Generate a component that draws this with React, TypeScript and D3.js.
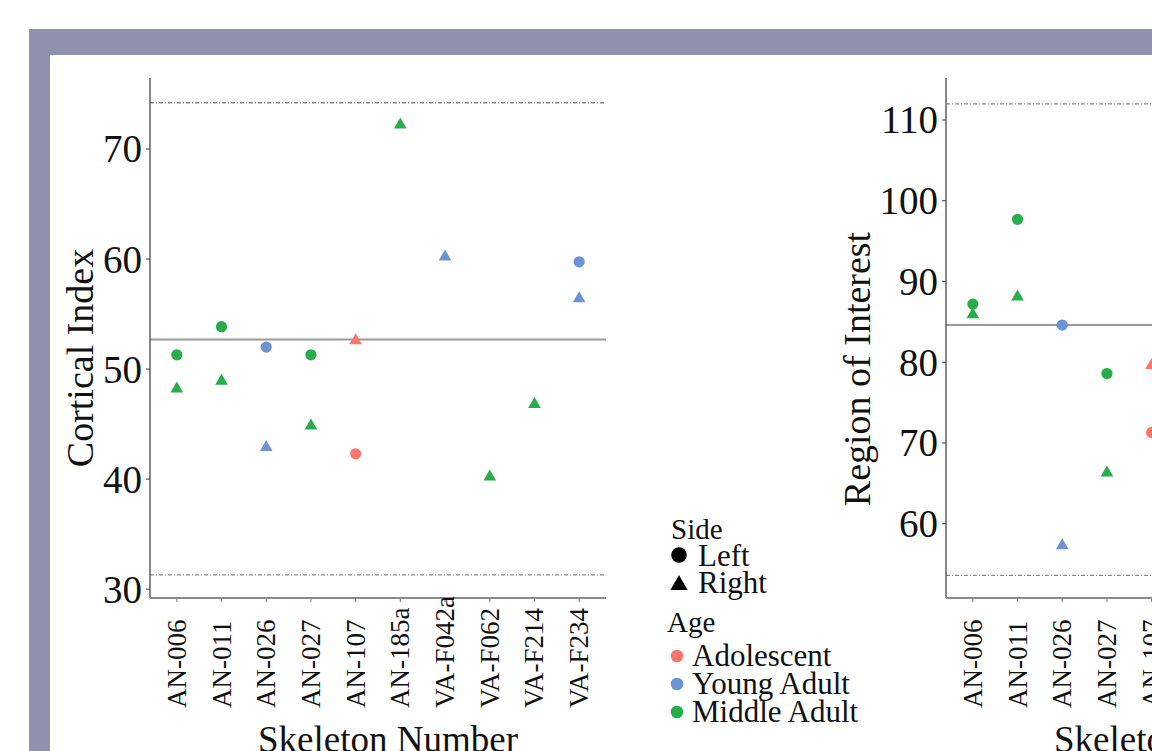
import React from "react";
import * as d3 from "d3";

const categories = ["AN-006", "AN-011", "AN-026", "AN-027", "AN-107", "AN-185a", "VA-F042a", "VA-F062", "VA-F214", "VA-F234"];
const ageGroup = ["Middle Adult", "Middle Adult", "Young Adult", "Middle Adult", "Adolescent", "Middle Adult", "Young Adult", "Middle Adult", "Middle Adult", "Young Adult"];
const ageLevels = ["Adolescent", "Young Adult", "Middle Adult"];
const ageColors = ["#F8766D", "#6C93D3", "#27AE4A"];
const sideLevels = ["Left", "Right"];

// Cortical Index
const ciLeft: (number | null)[] = [51.3, 53.85, 52.0, 51.3, 42.3, null, null, null, null, 59.75];
const ciRight: (number | null)[] = [48.2, 48.9, 42.9, 44.85, 52.6, 72.2, 60.2, 40.2, 46.8, 56.4];
const ciRef = { mean: 52.7, upper: 74.2, lower: 31.3 };
const ciTicks = [30, 40, 50, 60, 70];
const ciDomain: [number, number] = [29.2, 76.45];

// Region of Interest (panel cut off at the right edge)
const roiLeft: (number | null)[] = [87.2, 97.7, 84.6, 78.6, 71.3, null, null, null, null, null];
const roiRight: (number | null)[] = [85.9, 88.1, 57.3, 66.3, 79.6, null, null, null, null, null];
const roiRef = { mean: 84.6, upper: 112.0, lower: 53.6 };
const roiTicks = [60, 70, 80, 90, 100, 110];
const roiDomain: [number, number] = [50.8, 115.2];

const SERIF = "'Liberation Serif', 'DejaVu Serif', serif";
const color = d3.scaleOrdinal<string, string>().domain(ageLevels).range(ageColors);
const triSmall = d3.symbol().type(d3.symbolTriangle).size(70)();
const triBig = d3.symbol().type(d3.symbolTriangle).size(130)();

function Panel({ x0, left, right, refs, ticks, domain, title, titleX, titleY }: any) {
  const top = 78, bottom = 598, width = 456;
  const x = d3.scalePoint<string>().domain(categories).range([x0, x0 + width]).padding(0.6);
  const y = d3.scaleLinear().domain(domain).range([bottom, top]);
  const gray = "#8a8a8a";
  const pts: any[] = [];
  categories.forEach((c, i) => {
    if (left[i] != null) pts.push({ c, v: left[i], side: "Left", age: ageGroup[i] });
    if (right[i] != null) pts.push({ c, v: right[i], side: "Right", age: ageGroup[i] });
  });
  return (
    <g>
      {/* reference lines */}
      <line x1={x0} x2={x0 + width} y1={y(refs.mean)} y2={y(refs.mean)} stroke="#999" strokeWidth={2} />
      <line x1={x0} x2={x0 + width} y1={y(refs.upper)} y2={y(refs.upper)} stroke="#888" strokeWidth={1.3} strokeDasharray="4 2 1 2" />
      <line x1={x0} x2={x0 + width} y1={y(refs.lower)} y2={y(refs.lower)} stroke="#888" strokeWidth={1.3} strokeDasharray="4 2 1 2" />
      {/* axes */}
      <line x1={x0} x2={x0} y1={top} y2={bottom} stroke="#555" strokeWidth={1.4} />
      <line x1={x0} x2={x0 + width} y1={bottom} y2={bottom} stroke={gray} strokeWidth={1.8} />
      {ticks.map((t: number) => (
        <g key={t}>
          <line x1={x0 - 4} x2={x0} y1={y(t)} y2={y(t)} stroke="#555" strokeWidth={1.2} />
          <text x={x0 - 8} y={y(t) + 13.5} textAnchor="end" fontFamily={SERIF} fontSize={39} fill="#111">{t}</text>
        </g>
      ))}
      {categories.map((c) => (
        <g key={c}>
          <line x1={x(c)!} x2={x(c)!} y1={bottom} y2={bottom + 4} stroke={gray} strokeWidth={1.2} />
          <text transform={`translate(${x(c)! + 9},708) rotate(-90)`} textAnchor="start" fontFamily={SERIF} fontSize={27} fill="#111">{c}</text>
        </g>
      ))}
      {/* points */}
      {pts.map((p, i) =>
        p.side === "Left" ? (
          <circle key={i} cx={x(p.c)!} cy={y(p.v)} r={5.6} fill={color(p.age)} />
        ) : (
          <path key={i} d={triSmall!} transform={`translate(${x(p.c)!},${y(p.v)})`} fill={color(p.age)} />
        )
      )}
      {/* titles */}
      <text transform={`translate(${titleX},${titleY}) rotate(-90)`} textAnchor="middle" fontFamily={SERIF} fontSize={38} fill="#111">{title}</text>
      <text x={x0 + 238} y={752} textAnchor="middle" fontFamily={SERIF} fontSize={37} fill="#111">Skeleton Number</text>
    </g>
  );
}

export default function App() {
  return (
    <svg width={1152} height={751} style={{ position: "fixed", left: 0, top: 0, background: "#fff" }}>
      <rect x={0} y={0} width={1152} height={751} fill="#fff" />
      <rect x={29} y={29} width={1200} height={800} fill="#9091ad" />
      <rect x={50} y={55} width={1200} height={800} fill="#fff" />
      <Panel x0={150} left={ciLeft} right={ciRight} refs={ciRef} ticks={ciTicks} domain={ciDomain} title="Cortical Index" titleX={93} titleY={358} />
      <Panel x0={946} left={roiLeft} right={roiRight} refs={roiRef} ticks={roiTicks} domain={roiDomain} title="Region of Interest" titleX={870} titleY={369} />
      {/* legend */}
      <g fontFamily={SERIF} fill="#111">
        <text x={671} y={539} fontSize={29}>Side</text>
        {sideLevels.map((s, i) => (
          <g key={s}>
            {i === 0 ? (
              <circle cx={679} cy={555} r={7.8} fill="#000" />
            ) : (
              <path d={triBig!} transform={`translate(679,585)`} fill="#000" />
            )}
            <text x={698} y={566 + i * 27} fontSize={31}>{s}</text>
          </g>
        ))}
        <text x={667} y={632} fontSize={29}>Age</text>
        {ageLevels.map((a, i) => (
          <g key={a}>
            <circle cx={677} cy={656 + i * 28} r={6.3} fill={color(a)} />
            <text x={692} y={666 + i * 28} fontSize={31}>{a}</text>
          </g>
        ))}
      </g>
    </svg>
  );
}
